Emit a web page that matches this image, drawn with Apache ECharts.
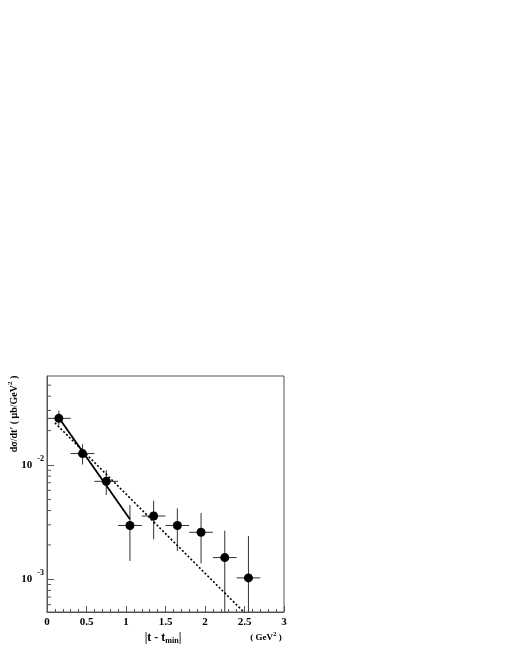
<!DOCTYPE html>
<html><head><meta charset="utf-8">
<script src="https://cdn.jsdelivr.net/npm/echarts@6/dist/echarts.min.js"></script>
<style>html,body{margin:0;padding:0;background:#fff}#c{width:510px;height:660px}</style>
</head><body><div id="c"></div>
<script>
// ---- data ----
const xVals = [0.15, 0.45, 0.75, 1.05, 1.35, 1.65, 1.95, 2.25, 2.55];
const yVals = [0.0256, 0.0126, 0.0072, 0.00296, 0.00358, 0.00296, 0.00258, 0.00155, 0.00103];
const xErr  = [0.15, 0.15, 0.15, 0.15, 0.15, 0.15, 0.15, 0.15, 0.15];
const yHigh = [0.0299, 0.0152, 0.0090, 0.00447, 0.00488, 0.00418, 0.0038, 0.00266, 0.00239];
const yLow  = [0.0224, 0.0101, 0.00547, 0.00145, 0.00224, 0.00177, 0.00138, 0.0003, 0.0003];
const solidFit  = [[0.15, 0.0259], [1.05, 0.00335]];
const dashedFit = [[0.10, 0.0234], [2.50, 0.00051]];
const xMin = 0, xMax = 3, xStep = 0.5;
const yMin = 0.000518, yMax = 0.0601;
const yMinorTicks = [0.0006, 0.0007, 0.0008, 0.0009,
  0.002, 0.003, 0.004, 0.005, 0.006, 0.007, 0.008, 0.009,
  0.02, 0.03, 0.04, 0.05];

const FONT = 'Liberation Serif';
const chart = echarts.init(document.getElementById('c'), null, {renderer: 'canvas'});

const errData = xVals.map((x, i) => [x, yVals[i], x - xErr[i], x + xErr[i], Math.max(yLow[i], yMin), Math.min(yHigh[i], yMax)]);

chart.setOption({
  animation: false,
  backgroundColor: '#fff',
  grid: {left: 47, top: 376, right: 226, bottom: 48, show: true, borderColor: '#555', borderWidth: 1, backgroundColor: 'transparent'},
  xAxis: {
    type: 'value', min: xMin, max: xMax, interval: xStep,
    axisLine: {show: true, lineStyle: {color: '#555', width: 1}},
    axisTick: {show: true, inside: true, length: 6, lineStyle: {color: '#555'}},
    minorTick: {show: true, splitNumber: 5, length: 3, lineStyle: {color: '#555'}},
    splitLine: {show: false},
    axisLabel: {color: '#000', fontFamily: FONT, fontWeight: 'bold', fontSize: 11, margin: 5}
  },
  yAxis: {
    type: 'log', logBase: 10, min: yMin, max: yMax,
    axisLine: {show: true, lineStyle: {color: '#555', width: 1}},
    axisTick: {show: true, inside: true, length: 7, lineStyle: {color: '#555'}},
    splitLine: {show: false},
    axisLabel: {
      showMinLabel: false, showMaxLabel: false, margin: 3,
      formatter: v => '{b|10}{s|' + Math.round(Math.log10(v)) + '}',
      rich: {
        b: {fontFamily: FONT, fontWeight: 'bold', fontSize: 11, color: '#000'},
        s: {fontFamily: FONT, fontWeight: 'bold', fontSize: 8, color: '#000', padding: [0, 0, 13, 5]}
      }
    }
  },
  series: [
    {
      type: 'custom', name: 'minorY', silent: true, z: 1,
      data: yMinorTicks.map(v => [xMin, v]),
      renderItem: (params, api) => {
        const p = api.coord([api.value(0), api.value(1)]);
        return {type: 'line', shape: {x1: p[0], y1: p[1], x2: p[0] + 4, y2: p[1]}, style: {stroke: '#555', lineWidth: 1}};
      }
    },
    {
      type: 'custom', name: 'errors', silent: true, z: 2,
      data: errData,
      renderItem: (params, api) => {
        const c = api.coord([api.value(0), api.value(1)]);
        const l = api.coord([api.value(2), api.value(1)]);
        const r = api.coord([api.value(3), api.value(1)]);
        const lo = api.coord([api.value(0), api.value(4)]);
        const hi = api.coord([api.value(0), api.value(5)]);
        return {type: 'group', children: [
          {type: 'line', shape: {x1: l[0], y1: c[1], x2: r[0], y2: c[1]}, style: {stroke: '#333', lineWidth: 1}},
          {type: 'line', shape: {x1: c[0], y1: lo[1], x2: c[0], y2: hi[1]}, style: {stroke: '#333', lineWidth: 1}}
        ]};
      }
    },
    {
      type: 'line', name: 'fit1', data: solidFit, symbol: 'none', z: 3, clip: true,
      lineStyle: {color: '#000', width: 1.8, type: 'solid'}
    },
    {
      type: 'line', name: 'fit2', data: dashedFit, symbol: 'none', z: 3, clip: true,
      lineStyle: {color: '#000', width: 1.6, type: [2, 2]}
    },
    {
      type: 'scatter', name: 'data', z: 4, symbol: 'circle', symbolSize: 9,
      itemStyle: {color: '#000', opacity: 1},
      data: xVals.map((x, i) => [x, yVals[i]])
    }
  ],
  graphic: [
    {type: 'text', x: 14, y: 414, rotation: Math.PI / 2,
     style: {text: '{a|dσ/dt′ ( μb/GeV}{s|2}{a| )}', align: 'center', verticalAlign: 'middle',
       rich: {a: {fontFamily: FONT, fontWeight: 'bold', fontSize: 10, color: '#000'},
              s: {fontFamily: FONT, fontWeight: 'bold', fontSize: 7, color: '#000', padding: [0, 0, 8, 0]}}}},
    {type: 'text', x: 163, y: 638,
     style: {text: '{a|\u007Ct - t}{m|min}{a|\u007C}', align: 'center', verticalAlign: 'middle',
       rich: {a: {fontFamily: FONT, fontWeight: 'bold', fontSize: 12, color: '#000'},
              m: {fontFamily: FONT, fontWeight: 'bold', fontSize: 8, color: '#000', padding: [6, 0, 0, 0]}}}},
    {type: 'text', x: 266, y: 638,
     style: {text: '{a|( GeV}{s|2}{a| )}', align: 'center', verticalAlign: 'middle',
       rich: {a: {fontFamily: FONT, fontWeight: 'bold', fontSize: 9, color: '#000'},
              s: {fontFamily: FONT, fontWeight: 'bold', fontSize: 7, color: '#000', padding: [0, 0, 7, 0]}}}}
  ]
});
</script></body></html>
